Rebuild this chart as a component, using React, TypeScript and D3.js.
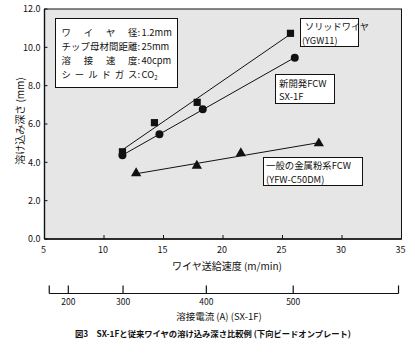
import React from "react";
import * as d3 from "d3";

const yTicks = [0, 2, 4, 6, 8, 10, 12];
const xTicks = [5, 10, 15, 20, 25, 30, 35];

const solidX = [11.55, 14.24, 17.83, 25.67];
const solidY = [4.55, 6.07, 7.13, 10.73];
const sxX = [11.55, 14.66, 18.3, 26.03];
const sxY = [4.37, 5.46, 6.77, 9.46];
const powderX = [12.7, 17.8, 21.5, 28.05];
const powderY = [3.43, 3.82, 4.47, 4.99];

const currentTicks = [200, 300, 400, 500];
const currentAtSpeed = [7.0, 11.6, 18.6, 25.9];
const currentAxisExtent = [5.4, 34.75];

const condLabels = ["ワイヤ径", "チップ母材間距離", "溶接速度", "シールドガス"];
const condValues = ["1.2mm", "25mm", "40cpm", "CO"];

const FONT = "'Noto Sans CJK JP', 'Noto Sans', sans-serif";

function fit(xs: number[], ys: number[]) {
  const mx = d3.mean(xs)!;
  const my = d3.mean(ys)!;
  let sxy = 0, sxx = 0;
  xs.forEach((x, i) => { sxy += (x - mx) * (ys[i] - my); sxx += (x - mx) ** 2; });
  const b = sxy / sxx;
  const a = my - b * mx;
  const x0 = d3.min(xs)!, x1 = d3.max(xs)!;
  return [[x0, a + b * x0], [x1, a + b * x1]];
}

export default function App() {
  const L = 44.5, R = 401.5, T = 9, B = 239;
  const x = d3.scaleLinear().domain([5, 35]).range([L, R]);
  const y = d3.scaleLinear().domain([0, 12]).range([B, T]);
  const cur = d3.scaleLinear().domain(currentTicks).range(currentAtSpeed);
  const line = d3.line<number[]>().x(d => x(d[0])).y(d => y(d[1]));
  const tri = d3.symbol().type(d3.symbolTriangle).size(46)()!;
  const sq = d3.symbol().type(d3.symbolSquare).size(52)()!;
  const circ = d3.symbol().type(d3.symbolCircle).size(50)()!;

  const series = [
    { xs: solidX, ys: solidY, path: sq },
    { xs: sxX, ys: sxY, path: circ },
    { xs: powderX, ys: powderY, path: tri },
  ];

  const axY = 293.5;
  const fs = 9.4;

  return (
    <svg width={415} height={356} style={{ position: "absolute", left: 0, top: 0 }} fontFamily={FONT}>
      <rect width={415} height={356} fill="#fff" />
      <rect x={L} y={T} width={R - L} height={B - T} fill="#e6e6e6" stroke="#111" strokeWidth={1} />
      <line x1={L} x2={L} y1={T} y2={B} stroke="#111" strokeWidth={1.4} />
      <line x1={L} x2={R} y1={B} y2={B} stroke="#111" strokeWidth={1.4} />
      {yTicks.map(t => (
        <g key={"y" + t}>
          <line x1={L} x2={L + 3} y1={y(t)} y2={y(t)} stroke="#111" />
          <text x={40.5} y={y(t) + 3.3} fontSize={9} textAnchor="end" fill="#111">{d3.format(".1f")(t)}</text>
        </g>
      ))}
      {xTicks.map(t => (
        <g key={"x" + t}>
          <line x1={x(t)} x2={x(t)} y1={B} y2={B - 4} stroke="#111" />
          <text x={x(t) - 1} y={253} fontSize={9} textAnchor="middle" fill="#111">{t}</text>
        </g>
      ))}
      {series.map((s, i) => (
        <g key={"s" + i}>
          <path d={line(fit(s.xs, s.ys))!} fill="none" stroke="#111" strokeWidth={1} />
          {s.xs.map((v, j) => (
            <path key={j} d={s.path} transform={`translate(${x(v)},${y(s.ys[j])})`} fill="#111" />
          ))}
        </g>
      ))}
      {/* conditions box */}
      <rect x={55.5} y={18.5} width={122} height={69} fill="#fff" stroke="#111" strokeWidth={1} />
      {condLabels.map((lab, i) => {
        const chars = Array.from(lab);
        const x0 = 61.5, x1 = 137.5;
        const w = fs;
        const step = chars.length > 1 ? (x1 - x0 - w) / (chars.length - 1) : 0;
        const by = 35.5 + i * 14.3;
        return (
          <g key={"c" + i} fontSize={fs} fill="#111">
            {chars.map((c, k) => (
              <text key={k} x={x0 + k * step} y={by}>{c}</text>
            ))}
            <text x={137.5} y={by}>:</text>
            <text x={141.5} y={by}>{condValues[i]}{i === 3 ? <tspan fontSize={6} dy={1.5}>2</tspan> : null}</text>
          </g>
        );
      })}
      {/* legend boxes */}
      <rect x={300.5} y={18.5} width={58} height={28} fill="#fff" stroke="#111" />
      <text x={305} y={30} fontSize={9.2} fill="#111">ソリッドワイヤ</text>
      <text x={302} y={44} fontSize={9.2} fill="#111">(YGW11)</text>
      <rect x={275.5} y={74.5} width={59} height={29} fill="#fff" stroke="#111" />
      <text x={279} y={87} fontSize={9.4} fill="#111">新開発FCW</text>
      <text x={279} y={100} fontSize={9.4} fill="#111">SX-1F</text>
      <rect x={263.5} y={157.5} width={99} height={28} fill="#fff" stroke="#111" />
      <text x={266} y={169} fontSize={9.4} fill="#111">一般の金属粉系FCW</text>
      <text x={266} y={182.5} fontSize={9.4} fill="#111">(YFW-C50DM)</text>
      {/* axis titles */}
      <g transform="translate(24,121)">
        <text transform="rotate(-90)" fontSize={10} textAnchor="middle" fill="#111">溶け込み深さ (mm)</text>
      </g>
      <text x={227} y={270} fontSize={10} textAnchor="middle" fill="#111">ワイヤ送給速度 (m/min)</text>
      {/* current axis */}
      <line x1={x(currentAxisExtent[0])} x2={x(currentAxisExtent[1])} y1={axY} y2={axY} stroke="#111" strokeWidth={1.2} />
      {currentAxisExtent.map((v, i) => (
        <line key={"e" + i} x1={x(v)} x2={x(v)} y1={axY} y2={axY - 8} stroke="#111" strokeWidth={1.2} />
      ))}
      {currentTicks.map(t => (
        <g key={"a" + t}>
          <line x1={x(cur(t))} x2={x(cur(t))} y1={axY} y2={axY - 8} stroke="#111" strokeWidth={1.2} />
          <text x={x(cur(t))} y={305} fontSize={8.5} textAnchor="middle" fill="#111">{t}</text>
        </g>
      ))}
      <text x={219} y={320} fontSize={9.5} textAnchor="middle" fill="#111">溶接電流 (A) (SX-1F)</text>
      <text x={213} y={337} fontSize={8.3} textAnchor="middle" fill="#111" fontWeight={600}>図3　SX-1Fと従来ワイヤの溶け込み深さ比較例 (下向ビードオンプレート)</text>
    </svg>
  );
}
